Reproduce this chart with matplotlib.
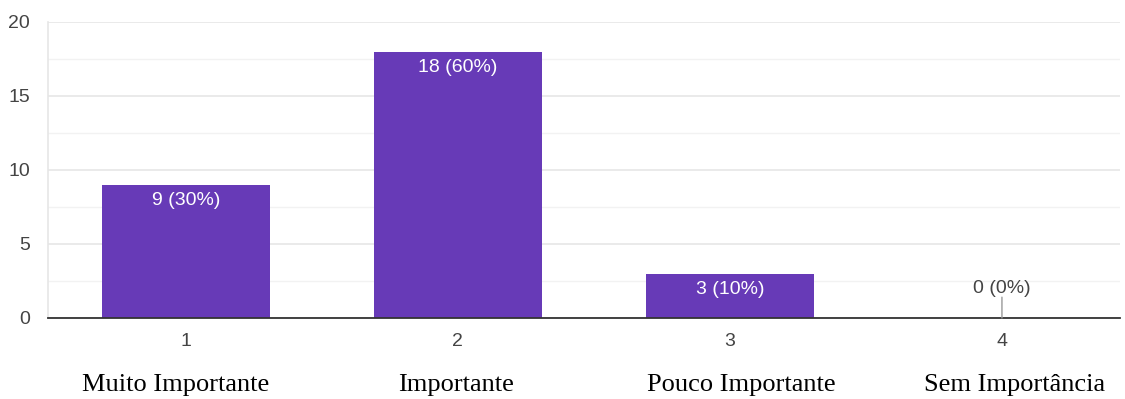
import matplotlib
matplotlib.use("Agg")
import matplotlib.pyplot as plt
from matplotlib.ticker import MultipleLocator
import matplotlib.transforms as mtransforms

tick_labels = ["1", "2", "3", "4"]
categories = ["Muito Importante", "Importante", "Pouco Importante", "Sem Importância"]
values = [9, 18, 3, 0]
percents = ["30%", "60%", "10%", "0%"]

# layout: horizontal offset (pixels) of the hand-placed category captions
caption_shift_px = [-10.5, -2, 11, 12.5]

fig = plt.figure(figsize=(11.25, 3.99), dpi=100)
ax = fig.add_axes([48/1125, 1-318/399, (1120-48)/1125, (318-22)/399])

pos = list(range(len(values)))
color = "#673AB7"
ax.bar(pos, values, width=0.62, color=color, zorder=3)

ax.set_xlim(-0.507, 3.434)
ax.set_ylim(0, 20)
ax.yaxis.set_major_locator(MultipleLocator(5))
ax.yaxis.set_minor_locator(MultipleLocator(2.5))
ax.grid(which="major", axis="y", color="#e6e6e6", linewidth=1.2, zorder=0)
ax.grid(which="minor", axis="y", color="#f2f2f2", linewidth=1.0, zorder=0)
for s in ["top", "right"]:
    ax.spines[s].set_visible(False)
ax.spines["left"].set_color("#e6e6e6")
ax.spines["left"].set_linewidth(1.2)
ax.spines["bottom"].set_color("#333333")
ax.spines["bottom"].set_linewidth(1.3)
ax.spines["bottom"].set_zorder(4)

ax.set_xticks(pos)
ax.set_xticklabels(tick_labels)
ax.tick_params(axis="both", length=0, labelsize=14, labelcolor="#444444", labelfontfamily="Liberation Sans")
ax.tick_params(axis="x", pad=11)
ax.tick_params(axis="y", pad=13)
ax.tick_params(which="minor", length=0)

for p, v, pc in zip(pos, values, percents):
    lbl = f"{v} ({pc})"
    if v > 0:
        ax.annotate(lbl, (p, v), xytext=(0, -5), textcoords="offset points",
                    ha="center", va="top", color="white", fontsize=14,
                    family="Liberation Sans", zorder=5)
    else:
        ax.annotate("", xy=(p, 0), xytext=(0, 15), textcoords="offset points",
                    arrowprops=dict(arrowstyle="-", color="#999999", lw=1.0,
                                    shrinkA=0, shrinkB=0), zorder=5)
        ax.annotate(lbl, (p, 0), xytext=(0, 15), textcoords="offset points",
                    ha="center", va="bottom", color="#444444", fontsize=14,
                    family="Liberation Sans", zorder=5)

trans = mtransforms.blended_transform_factory(ax.transData, fig.transFigure)
for p, c, dx in zip(pos, categories, caption_shift_px):
    t = trans + mtransforms.ScaledTranslation(dx / 100, 0, fig.dpi_scale_trans)
    ax.text(p, 1-385/399, c, transform=t, ha="center", va="center",
            fontsize=19, family="Liberation Serif", color="black")

fig.savefig("out.png", dpi=100)
